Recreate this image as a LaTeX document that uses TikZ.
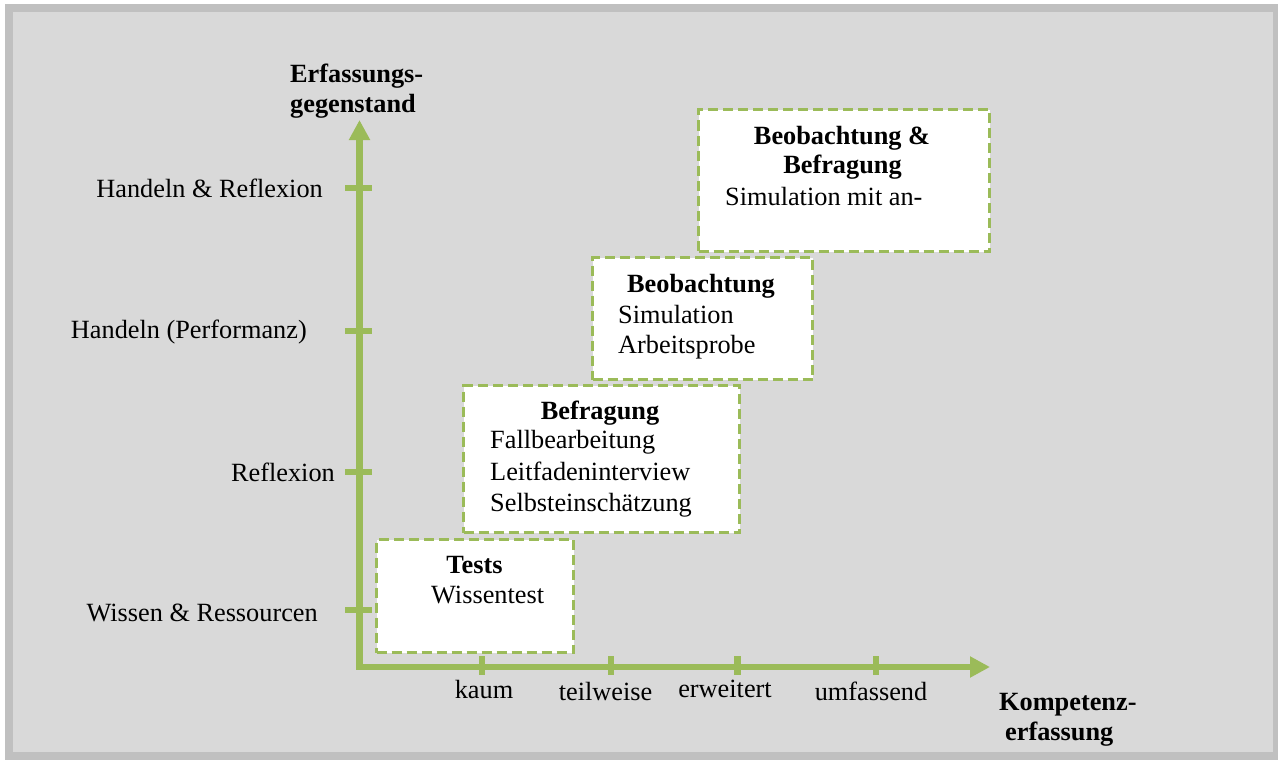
\documentclass[tikz,border=0pt]{standalone}
\usepackage{fontspec}
\setmainfont{Liberation Serif}
\usetikzlibrary{arrows.meta}
\definecolor{grn}{HTML}{9BBB59}
\definecolor{frm}{HTML}{C0C0C0}
\definecolor{bgc}{HTML}{D9D9D9}
\begin{document}
\begin{tikzpicture}[x=1pt,y=-1pt,
  txt/.style={font=\fontsize{26.3}{31}\selectfont, inner sep=0pt},
  btxt/.style={font=\fontsize{26.3}{31}\selectfont\bfseries, inner sep=0pt},
  mbox/.style={draw=grn, line width=3pt, dash pattern=on 10pt off 5pt, fill=white, anchor=north west, inner sep=0pt},
  axis/.style={draw=grn, line width=6.5pt, >={Triangle[length=20pt,width=20pt]}},
  tickmark/.style={draw=grn, line width=6.5pt}]

\useasboundingbox (0,0) rectangle (1278,760);
\fill[white] (0,0) rectangle (1278,760);
\fill[frm] (5,4) rectangle (1278,760);
\fill[bgc] (13,12) rectangle (1273,752);

% boxes
\node[mbox, minimum width=197pt, minimum height=113pt] (tests) at (375,538) {};
\node[mbox, minimum width=276pt, minimum height=147pt] (befr) at (462,384) {};
\node[mbox, minimum width=220pt, minimum height=122pt] (beob) at (591,256) {};
\node[mbox, minimum width=291pt, minimum height=142pt] (bb) at (697,108) {};

% axes
\coordinate (o) at (359.5,667);
\coordinate (ytop) at (359.5,120);
\coordinate (xend) at (990,667);
\draw[axis, <->] (ytop) -- (o) -- (xend);

% y ticks
\foreach \yy/\nm in {188/t1,331/t2,472/t3,610/t4}{
  \coordinate (\nm a) at (345,\yy);
  \coordinate (\nm b) at (372,\yy);
  \draw[tickmark] (\nm a) -- (\nm b);
}
% x ticks
\foreach \xx/\nm in {482/k1,611/k2,737.5/k3,876/k4}{
  \coordinate (\nm a) at (\xx,656);
  \coordinate (\nm b) at (\xx,675);
  \draw[tickmark] (\nm a) -- (\nm b);
}

% y labels
\node[txt, anchor=base east] (l1) at (323,197) {Handeln \& Reflexion};
\node[txt, anchor=base east] (l2) at (307,338) {Handeln (Performanz)};
\node[txt, anchor=base east] (l3) at (335,481) {Reflexion};
\node[txt, anchor=base east] (l4) at (318,621) {Wissen \& Ressourcen};

% x labels
\node[txt, anchor=base] (x1) at (484,698) {kaum};
\node[txt, anchor=base] (x2) at (605.5,700) {teilweise};
\node[txt, anchor=base] (x3) at (725,697) {erweitert};
\node[txt, anchor=base] (x4) at (871,700) {umfassend};

% axis titles
\node[btxt, anchor=base west] (ya1) at (290,83) {Erfassungs-};
\node[btxt, anchor=base west] (ya2) at (290,113) {gegenstand};
\node[btxt, anchor=base west] (xa1) at (999,710) {Kompetenz-};
\node[btxt, anchor=base west] (xa2) at (1005,740) {erfassung};

% box texts
\node[btxt, anchor=base] (tt) at (474.5,573) {Tests};
\node[txt, anchor=base west] (tw) at (431,603) {Wissentest};

\node[btxt, anchor=base] (bt) at (600,419) {Befragung};
\node[txt, anchor=base west] (b1) at (490,448) {Fallbearbeitung};
\node[txt, anchor=base west] (b2) at (490,480) {Leitfadeninterview};
\node[txt, anchor=base west] (b3) at (490,511) {Selbsteinschätzung};

\node[btxt, anchor=base] (ot) at (701,292) {Beobachtung};
\node[txt, anchor=base west] (o1) at (618,323) {Simulation};
\node[txt, anchor=base west] (o2) at (618,353) {Arbeitsprobe};

\node[btxt, anchor=base] (bbt1) at (842,144) {Beobachtung \&};
\node[btxt, anchor=base] (bbt2) at (842.5,173) {Befragung};
\node[txt, anchor=base west] (bb1) at (725,205) {Simulation mit an-};
\end{tikzpicture}
\end{document}
